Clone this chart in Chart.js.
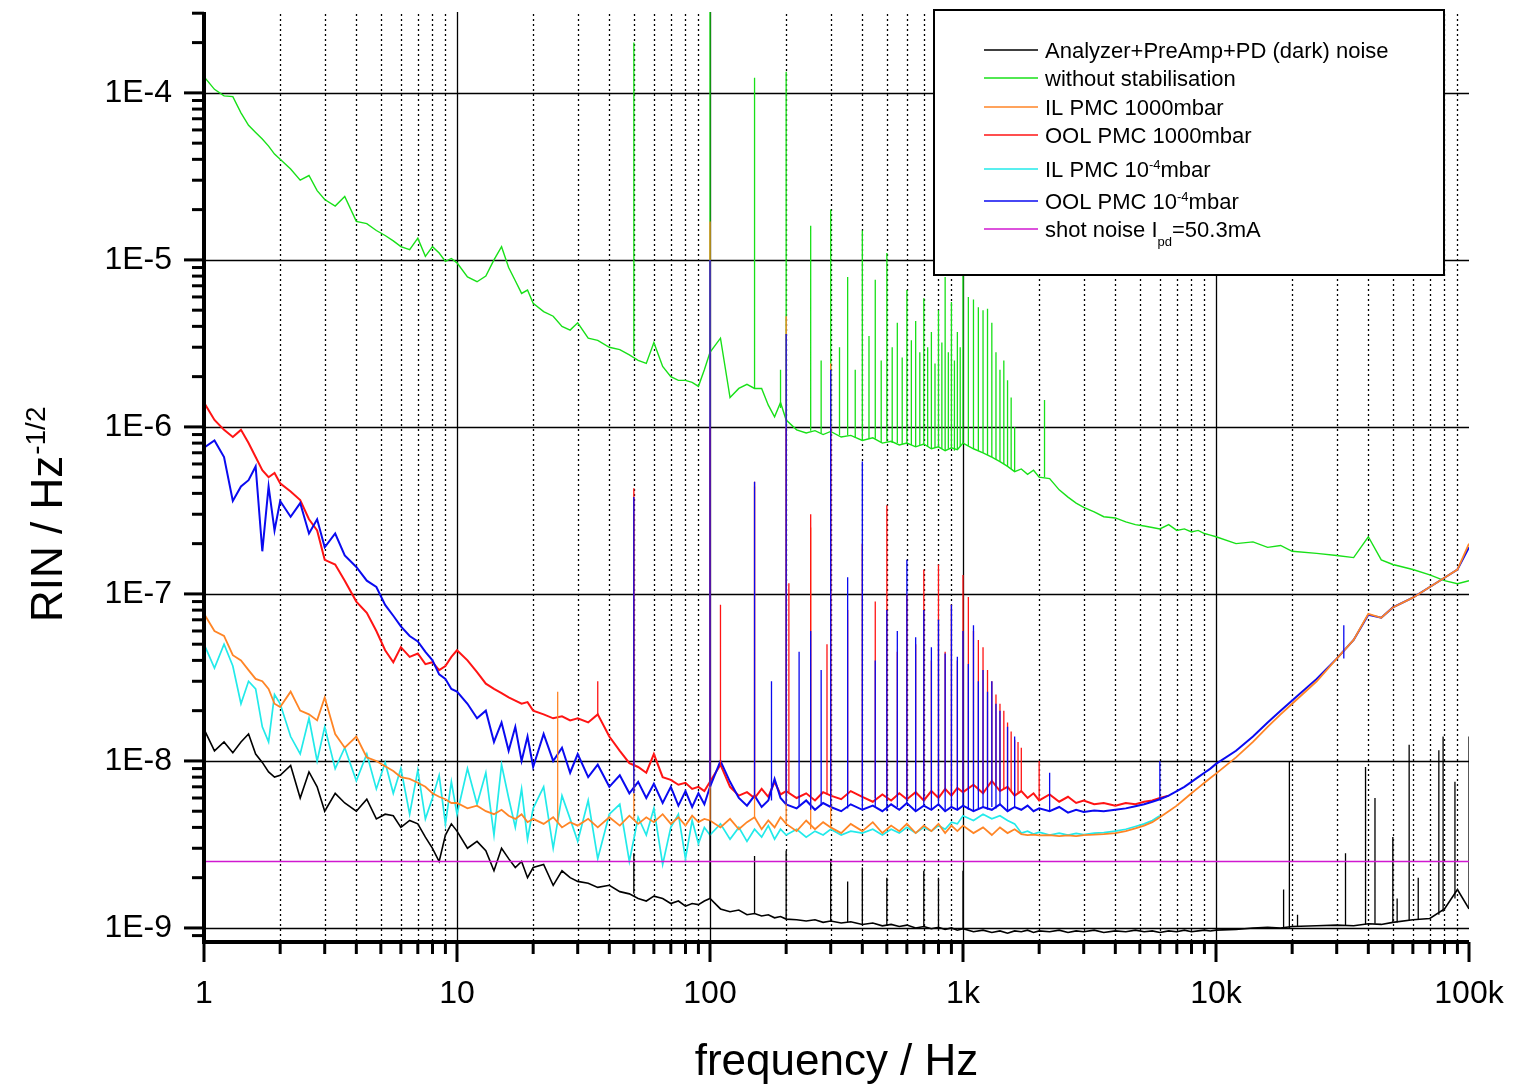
<!DOCTYPE html>
<html>
<head>
<meta charset="utf-8">
<title>RIN spectrum</title>
<script src="https://cdn.jsdelivr.net/npm/chart.js@4.4.0/dist/chart.umd.min.js"></script>
<style>
  html, body { margin: 0; padding: 0; background: #fff; }
  #wrap { width: 1519px; height: 1088px; }
</style>
</head>
<body>
<div id="wrap"><canvas id="rin-chart" width="1519" height="1088"></canvas></div>
<script>
// RIN spectra (relative intensity noise, 1/sqrt(Hz))

// frequency grid shared by the traces (Hz)
const freqHz = [
  1, 1.1, 1.2, 1.3, 1.4, 1.5, 1.6, 1.7, 1.8, 1.9, 2, 2.2, 2.4, 2.6, 2.8, 3, 3.3, 3.6, 4, 4.4, 4.8, 5.2, 5.6, 6, 6.5, 7, 7.5, 8, 8.5, 9, 9.5,
  10, 11, 12, 13, 14, 15, 16, 17, 18, 19, 20, 22, 24, 26, 28, 30, 33, 36, 40, 44, 48, 52, 56, 60, 65, 70, 75, 80, 85, 90, 95,
  100, 110, 120, 130, 140, 150, 160, 170, 180, 190, 200, 220, 240, 260, 280, 300, 330, 360, 400, 440, 480, 520, 560, 600, 650, 700, 750, 800, 850, 900, 950,
  1000, 1100, 1200, 1300, 1400, 1500, 1600, 1700, 1800, 1900, 2000, 2200, 2400, 2600, 2800, 3000, 3300, 3600, 4000, 4400, 4800, 5200, 5600, 6000, 6500, 7000, 7500, 8000, 8500, 9000, 9500,
  10000, 12000, 14000, 16000, 18000, 20000, 25000, 30000, 35000, 40000, 45000, 50000, 60000, 70000, 80000, 90000, 100000
];

// Analyzer+PreAmp+PD (dark) noise
const darkRin = [
  1.55e-8, 1.15e-8, 1.3e-8, 1.12e-8, 1.3e-8, 1.45e-8, 1.1e-8, 9.8e-9, 8.6e-9, 8.0e-9, 8.2e-9, 9.4e-9, 6.0e-9, 8.6e-9, 7.0e-9, 5.0e-9, 6.4e-9, 5.6e-9, 5.0e-9, 5.9e-9, 4.5e-9, 4.8e-9, 4.7e-9, 4.0e-9, 4.4e-9, 4.2e-9, 3.5e-9, 3.0e-9, 2.5e-9, 3.6e-9, 4.2e-9,
  3.8e-9, 3.0e-9, 3.3e-9, 2.9e-9, 2.2e-9, 3.0e-9, 2.6e-9, 2.3e-9, 2.5e-9, 2.0e-9, 2.3e-9, 2.4e-9, 1.8e-9, 2.2e-9, 2.0e-9, 1.9e-9, 1.85e-9, 1.75e-9, 1.8e-9, 1.65e-9, 1.6e-9, 1.5e-9, 1.45e-9, 1.55e-9, 1.5e-9, 1.4e-9, 1.45e-9, 1.35e-9, 1.4e-9, 1.38e-9, 1.45e-9,
  1.5e-9, 1.3e-9, 1.25e-9, 1.28e-9, 1.2e-9, 1.22e-9, 1.18e-9, 1.2e-9, 1.15e-9, 1.17e-9, 1.13e-9, 1.12e-9, 1.1e-9, 1.12e-9, 1.08e-9, 1.1e-9, 1.07e-9, 1.09e-9, 1.05e-9, 1.07e-9, 1.03e-9, 1.05e-9, 1.02e-9, 1.04e-9, 1.0e-9, 1.02e-9, 9.9e-10, 1.01e-9, 9.8e-10, 1.0e-9, 9.7e-10,
  9.9e-10, 9.5e-10, 9.7e-10, 9.4e-10, 9.6e-10, 9.3e-10, 9.6e-10, 9.5e-10, 9.7e-10, 9.4e-10, 9.6e-10, 9.5e-10, 9.7e-10, 9.4e-10, 9.6e-10, 9.5e-10, 9.7e-10, 9.4e-10, 9.6e-10, 9.5e-10, 9.7e-10, 9.5e-10, 9.6e-10, 9.4e-10, 9.6e-10, 9.5e-10, 9.7e-10, 9.5e-10, 9.6e-10, 9.7e-10, 9.6e-10,
  9.7e-10, 9.8e-10, 1.0e-9, 1.01e-9, 1.0e-9, 1.02e-9, 1.03e-9, 1.04e-9, 1.03e-9, 1.06e-9, 1.05e-9, 1.08e-9, 1.12e-9, 1.14e-9, 1.3e-9, 1.7e-9, 1.3e-9
];

// without stabilisation
const freeRin = [
  1.25e-4, 1.05e-4, 9.6e-5, 9.5e-5, 7.6e-5, 6.4e-5, 5.8e-5, 5.3e-5, 4.8e-5, 4.3e-5, 4.0e-5, 3.5e-5, 3.0e-5, 3.2e-5, 2.6e-5, 2.3e-5, 2.1e-5, 2.4e-5, 1.7e-5, 1.65e-5, 1.5e-5, 1.4e-5, 1.3e-5, 1.2e-5, 1.15e-5, 1.35e-5, 1.05e-5, 1.2e-5, 1.1e-5, 9.8e-6, 1.02e-5,
  9.6e-6, 7.9e-6, 7.4e-6, 8.0e-6, 1.0e-5, 1.2e-5, 9.0e-6, 7.5e-6, 6.3e-6, 6.6e-6, 5.5e-6, 4.9e-6, 4.6e-6, 4.0e-6, 3.8e-6, 4.2e-6, 3.4e-6, 3.3e-6, 3.0e-6, 2.9e-6, 2.7e-6, 2.5e-6, 2.4e-6, 3.2e-6, 2.3e-6, 2.0e-6, 1.9e-6, 1.9e-6, 1.85e-6, 1.75e-6, 2.2e-6,
  2.8e-6, 3.4e-6, 1.5e-6, 1.7e-6, 1.8e-6, 1.7e-6, 1.7e-6, 1.35e-6, 1.15e-6, 1.4e-6, 1.1e-6, 9.6e-7, 9.2e-7, 9.5e-7, 9.0e-7, 9.4e-7, 8.7e-7, 8.9e-7, 8.3e-7, 8.6e-7, 8.0e-7, 8.2e-7, 7.8e-7, 8.0e-7, 7.6e-7, 7.9e-7, 7.4e-7, 7.6e-7, 7.2e-7, 7.5e-7, 7.3e-7,
  8.0e-7, 7.4e-7, 7.0e-7, 6.6e-7, 6.2e-7, 5.8e-7, 5.4e-7, 5.6e-7, 5.2e-7, 5.5e-7, 5.0e-7, 4.9e-7, 4.2e-7, 3.8e-7, 3.5e-7, 3.3e-7, 3.1e-7, 2.9e-7, 2.85e-7, 2.7e-7, 2.6e-7, 2.55e-7, 2.5e-7, 2.45e-7, 2.6e-7, 2.4e-7, 2.45e-7, 2.35e-7, 2.4e-7, 2.3e-7, 2.25e-7,
  2.2e-7, 2.0e-7, 2.05e-7, 1.9e-7, 1.95e-7, 1.8e-7, 1.75e-7, 1.7e-7, 1.65e-7, 2.2e-7, 1.6e-7, 1.5e-7, 1.4e-7, 1.3e-7, 1.2e-7, 1.15e-7, 1.2e-7
];

// IL PMC 1000mbar
const ilAirRin = [
  7.6e-8, 6.0e-8, 5.6e-8, 4.3e-8, 4.0e-8, 3.5e-8, 3.1e-8, 3.0e-8, 2.7e-8, 2.2e-8, 2.1e-8, 2.6e-8, 2.0e-8, 1.9e-8, 1.75e-8, 2.4e-8, 1.45e-8, 1.2e-8, 1.4e-8, 1.05e-8, 1.0e-8, 9.3e-9, 8.7e-9, 8.0e-9, 7.8e-9, 7.4e-9, 7.0e-9, 6.4e-9, 6.1e-9, 5.9e-9, 5.6e-9,
  5.6e-9, 5.2e-9, 5.4e-9, 5.0e-9, 4.8e-9, 5.1e-9, 4.7e-9, 4.5e-9, 4.8e-9, 4.3e-9, 4.5e-9, 4.2e-9, 4.6e-9, 4.0e-9, 4.3e-9, 4.1e-9, 4.5e-9, 4.0e-9, 4.6e-9, 4.1e-9, 4.7e-9, 4.2e-9, 4.6e-9, 4.3e-9, 4.8e-9, 4.2e-9, 4.6e-9, 4.1e-9, 4.7e-9, 4.3e-9, 4.5e-9,
  4.4e-9, 4.0e-9, 4.5e-9, 3.9e-9, 4.3e-9, 4.6e-9, 3.9e-9, 4.4e-9, 4.0e-9, 4.6e-9, 4.2e-9, 3.8e-9, 4.4e-9, 3.9e-9, 4.3e-9, 4.0e-9, 3.7e-9, 4.2e-9, 3.8e-9, 4.3e-9, 3.7e-9, 4.1e-9, 3.8e-9, 4.2e-9, 3.7e-9, 4.1e-9, 3.8e-9, 4.2e-9, 3.7e-9, 4.1e-9, 3.8e-9,
  4.1e-9, 3.7e-9, 4.0e-9, 3.6e-9, 4.0e-9, 3.7e-9, 3.9e-9, 3.65e-9, 3.6e-9, 3.62e-9, 3.58e-9, 3.6e-9, 3.55e-9, 3.58e-9, 3.55e-9, 3.6e-9, 3.62e-9, 3.65e-9, 3.7e-9, 3.8e-9, 3.95e-9, 4.1e-9, 4.3e-9, 4.6e-9, 5.0e-9, 5.4e-9, 5.9e-9, 6.4e-9, 6.9e-9, 7.4e-9, 7.9e-9,
  8.4e-9, 1.05e-8, 1.3e-8, 1.6e-8, 1.9e-8, 2.2e-8, 3.0e-8, 4.1e-8, 5.3e-8, 7.6e-8, 7.2e-8, 8.3e-8, 9.5e-8, 1.1e-7, 1.25e-7, 1.4e-7, 2.0e-7
];

// OOL PMC 1000mbar (stops near 6.5 kHz)
const oolAirRin = [
  1.4e-6, 1.1e-6, 9.6e-7, 8.7e-7, 9.6e-7, 8.0e-7, 6.6e-7, 5.5e-7, 5.0e-7, 5.3e-7, 4.6e-7, 4.1e-7, 3.65e-7, 2.8e-7, 2.4e-7, 1.6e-7, 1.5e-7, 1.2e-7, 9.0e-8, 7.7e-8, 6.0e-8, 4.6e-8, 3.9e-8, 4.8e-8, 4.2e-8, 4.4e-8, 3.8e-8, 3.9e-8, 3.5e-8, 3.7e-8, 4.2e-8,
  4.6e-8, 4.0e-8, 3.4e-8, 2.9e-8, 2.7e-8, 2.55e-8, 2.4e-8, 2.3e-8, 2.2e-8, 2.25e-8, 2.0e-8, 1.9e-8, 1.8e-8, 1.85e-8, 1.75e-8, 1.8e-8, 1.7e-8, 1.9e-8, 1.4e-8, 1.15e-8, 9.7e-9, 9.2e-9, 8.5e-9, 1.1e-8, 8.0e-9, 7.7e-9, 7.2e-9, 7.4e-9, 6.8e-9, 7.0e-9, 6.6e-9,
  7.5e-9, 9.5e-9, 7.0e-9, 6.2e-9, 6.5e-9, 6.0e-9, 6.8e-9, 6.1e-9, 7.5e-9, 6.3e-9, 6.6e-9, 6.0e-9, 6.4e-9, 5.8e-9, 6.5e-9, 6.2e-9, 5.9e-9, 6.6e-9, 6.1e-9, 5.7e-9, 6.3e-9, 5.8e-9, 6.4e-9, 5.9e-9, 6.5e-9, 5.8e-9, 6.6e-9, 6.0e-9, 6.8e-9, 6.2e-9, 6.9e-9,
  6.5e-9, 7.2e-9, 6.4e-9, 7.6e-9, 6.6e-9, 7.0e-9, 6.2e-9, 6.6e-9, 6.0e-9, 6.4e-9, 5.8e-9, 6.3e-9, 5.7e-9, 6.1e-9, 5.6e-9, 5.8e-9, 5.5e-9, 5.6e-9, 5.4e-9, 5.6e-9, 5.5e-9, 5.7e-9, 5.8e-9, 6.0e-9, 6.2e-9, null, null, null, null, null, null,
  null, null, null, null, null, null, null, null, null, null, null, null, null, null, null, null, null
];

// IL PMC 10^-4 mbar (stops near 6 kHz)
const ilVacRin = [
  5.0e-8, 3.6e-8, 5.0e-8, 3.7e-8, 2.2e-8, 3.0e-8, 2.7e-8, 1.6e-8, 1.3e-8, 2.5e-8, 2.2e-8, 1.4e-8, 1.1e-8, 1.8e-8, 1.0e-8, 1.6e-8, 9.0e-9, 1.2e-8, 7.6e-9, 1.1e-8, 6.8e-9, 9.8e-9, 6.4e-9, 9.0e-9, 4.8e-9, 8.8e-9, 4.5e-9, 6.0e-9, 8.2e-9, 4.2e-9, 7.5e-9,
  4.8e-9, 9.0e-9, 5.5e-9, 8.5e-9, 3.6e-9, 9.5e-9, 6.0e-9, 4.0e-9, 6.8e-9, 3.4e-9, 5.2e-9, 7.0e-9, 3.0e-9, 6.2e-9, 4.5e-9, 3.3e-9, 5.8e-9, 2.6e-9, 4.8e-9, 5.5e-9, 2.5e-9, 4.6e-9, 3.6e-9, 5.2e-9, 2.4e-9, 4.0e-9, 4.8e-9, 2.6e-9, 4.4e-9, 3.2e-9, 4.0e-9,
  3.6e-9, 4.2e-9, 3.4e-9, 4.0e-9, 3.3e-9, 3.9e-9, 3.5e-9, 4.1e-9, 3.4e-9, 3.9e-9, 3.6e-9, 3.9e-9, 3.5e-9, 3.8e-9, 3.6e-9, 3.9e-9, 3.6e-9, 3.8e-9, 3.7e-9, 3.9e-9, 3.6e-9, 3.9e-9, 3.7e-9, 4.0e-9, 3.7e-9, 4.0e-9, 3.8e-9, 4.1e-9, 3.9e-9, 4.3e-9, 4.2e-9,
  4.7e-9, 4.4e-9, 4.8e-9, 4.5e-9, 4.7e-9, 4.4e-9, 4.2e-9, 3.7e-9, 3.8e-9, 3.65e-9, 3.75e-9, 3.6e-9, 3.7e-9, 3.6e-9, 3.68e-9, 3.62e-9, 3.7e-9, 3.72e-9, 3.8e-9, 3.9e-9, 4.05e-9, 4.2e-9, 4.4e-9, 4.7e-9, null, null, null, null, null, null, null,
  null, null, null, null, null, null, null, null, null, null, null, null, null, null, null, null, null
];

// OOL PMC 10^-4 mbar
const oolVacRin = [
  7.5e-7, 8.3e-7, 6.6e-7, 3.6e-7, 4.4e-7, 4.8e-7, 5.8e-7, 1.8e-7, 4.4e-7, 2.4e-7, 3.6e-7, 2.9e-7, 3.5e-7, 2.3e-7, 2.8e-7, 1.9e-7, 2.3e-7, 1.7e-7, 1.45e-7, 1.2e-7, 1.1e-7, 8.6e-8, 7.4e-8, 6.4e-8, 5.6e-8, 5.2e-8, 4.5e-8, 4.0e-8, 3.3e-8, 3.1e-8, 2.7e-8,
  2.6e-8, 2.2e-8, 1.8e-8, 2.0e-8, 1.3e-8, 1.7e-8, 1.15e-8, 1.6e-8, 1.0e-8, 1.4e-8, 9.2e-9, 1.45e-8, 1.0e-8, 1.2e-8, 8.5e-9, 1.1e-8, 8.0e-9, 9.5e-9, 7.0e-9, 8.2e-9, 6.4e-9, 7.5e-9, 6.0e-9, 7.3e-9, 5.6e-9, 7.0e-9, 5.4e-9, 6.6e-9, 5.3e-9, 6.4e-9, 5.5e-9,
  7.0e-9, 1.0e-8, 7.5e-9, 6.0e-9, 5.4e-9, 6.2e-9, 5.3e-9, 5.8e-9, 7.8e-9, 6.0e-9, 5.5e-9, 5.2e-9, 5.8e-9, 5.1e-9, 5.6e-9, 5.3e-9, 5.0e-9, 5.5e-9, 5.1e-9, 5.4e-9, 5.0e-9, 5.5e-9, 5.1e-9, 5.6e-9, 5.0e-9, 5.4e-9, 5.1e-9, 5.5e-9, 5.0e-9, 5.3e-9, 5.1e-9,
  5.4e-9, 5.0e-9, 5.3e-9, 5.1e-9, 5.5e-9, 5.0e-9, 5.3e-9, 5.1e-9, 5.4e-9, 5.0e-9, 5.2e-9, 5.0e-9, 5.3e-9, 4.9e-9, 5.1e-9, 4.95e-9, 5.05e-9, 5.0e-9, 5.1e-9, 5.2e-9, 5.35e-9, 5.5e-9, 5.7e-9, 5.9e-9, 6.2e-9, 6.6e-9, 7.0e-9, 7.5e-9, 8.0e-9, 8.5e-9, 9.0e-9,
  9.6e-9, 1.15e-8, 1.4e-8, 1.7e-8, 2.0e-8, 2.3e-8, 3.1e-8, 4.1e-8, 5.3e-8, 7.5e-8, 7.2e-8, 8.3e-8, 9.5e-8, 1.1e-7, 1.25e-7, 1.4e-7, 1.9e-7
];

// shot noise, Ipd = 50.3 mA
const shotHz = [1, 100000];
const shotRin = [2.5e-9, 2.5e-9];

// narrow lines (mains harmonics etc.): frequency, floor below the line, line top
const darkSpikeHz = [50, 100, 150, 200, 300, 350, 400, 500, 700, 800, 1000, 18500, 19500, 21000, 32500, 39000, 42500, 50000, 52000, 58000, 63000, 76000, 79000, 88000, 100000];
const darkSpikeBase = [1.6e-9, 1.5e-9, 1.22e-9, 1.13e-9, 1.1e-9, 1.08e-9, 1.05e-9, 1.04e-9, 1.02e-9, 1.01e-9, 9.9e-10, 1.0e-9, 1.0e-9, 1.02e-9, 1.04e-9, 1.05e-9, 1.06e-9, 1.08e-9, 1.08e-9, 1.1e-9, 1.12e-9, 1.2e-9, 1.25e-9, 1.5e-9, 1.3e-9];
const darkSpikeTop = [2.8e-9, 4.4e-9, 2.7e-9, 2.9e-9, 2.6e-9, 1.9e-9, 2.3e-9, 2.0e-9, 2.2e-9, 2.0e-9, 2.2e-9, 1.7e-9, 1.0e-8, 1.2e-9, 2.8e-9, 9.2e-9, 6.0e-9, 3.5e-9, 1.5e-9, 1.25e-8, 2.0e-9, 1.16e-8, 1.4e-8, 7.5e-9, 1.4e-8];

const freeSpikeHz = [50, 100, 150, 190, 200, 250, 275, 300, 325, 350, 375, 400, 425, 450, 475, 500, 525, 550, 575, 600, 625, 650, 675, 700, 725, 750, 775, 800, 825, 850, 875, 900, 925, 950, 975, 1000, 1050, 1100, 1150, 1200, 1250, 1300, 1350, 1400, 1450, 1500, 1550, 1600, 2100];
const freeSpikeBase = [2.7e-6, 2.8e-6, 1.7e-6, 1.3e-6, 1.1e-6, 9.5e-7, 9.2e-7, 9.4e-7, 8.9e-7, 8.9e-7, 8.6e-7, 8.3e-7, 8.5e-7, 8.5e-7, 8.1e-7, 8.2e-7, 8.0e-7, 8.0e-7, 7.9e-7, 8.0e-7, 7.8e-7, 7.6e-7, 7.8e-7, 7.9e-7, 7.6e-7, 7.4e-7, 7.5e-7, 7.6e-7, 7.4e-7, 7.2e-7, 7.4e-7, 7.5e-7, 7.2e-7, 7.3e-7, 7.6e-7, 8.0e-7, 7.7e-7, 7.4e-7, 7.2e-7, 7.0e-7, 6.8e-7, 6.6e-7, 6.4e-7, 6.2e-7, 6.0e-7, 5.8e-7, 5.6e-7, 5.4e-7, 5.0e-7];
const freeSpikeTop = [2.0e-4, 3.5e-4, 1.23e-4, 2.2e-6, 1.34e-4, 1.6e-5, 2.5e-6, 2.0e-5, 3.0e-6, 7.9e-6, 2.2e-6, 1.5e-5, 3.5e-6, 7.6e-6, 2.5e-6, 1.1e-5, 3.0e-6, 4.2e-6, 2.6e-6, 6.6e-6, 3.3e-6, 4.3e-6, 2.8e-6, 5.9e-6, 3.0e-6, 3.7e-6, 2.4e-6, 5.0e-6, 3.2e-6, 7.9e-6, 2.8e-6, 5.6e-6, 2.5e-6, 3.7e-6, 3.0e-6, 9.3e-6, 6.0e-6, 5.8e-6, 5.2e-6, 5.0e-6, 5.1e-6, 4.2e-6, 2.8e-6, 2.2e-6, 2.5e-6, 1.9e-6, 1.5e-6, 1.0e-6, 1.45e-6];

const ilAirSpikeHz = [25, 50, 100, 150, 200, 250, 300];
const ilAirSpikeBase = [4.3e-9, 4.5e-9, 4.4e-9, 4.6e-9, 4.2e-9, 3.9e-9, 4.0e-9];
const ilAirSpikeTop = [2.6e-8, 3.0e-7, 1.7e-5, 4.4e-7, 4.6e-6, 2.5e-7, 2.4e-6];

const oolAirSpikeHz = [36, 50, 100, 110, 150, 200, 205, 250, 290, 300, 350, 400, 450, 500, 550, 600, 650, 700, 750, 800, 850, 900, 950, 1000, 1050, 1100, 1150, 1200, 1250, 1300, 1350, 1400, 1450, 1500, 1550, 1600, 1650, 1700, 2000];
const oolAirSpikeBase = [1.9e-8, 9.6e-9, 7.5e-9, 9.5e-9, 6.0e-9, 6.6e-9, 6.5e-9, 6.0e-9, 6.3e-9, 6.2e-9, 6.3e-9, 6.1e-9, 6.0e-9, 5.8e-9, 6.1e-9, 5.9e-9, 6.2e-9, 5.8e-9, 6.4e-9, 6.0e-9, 6.6e-9, 6.2e-9, 6.7e-9, 6.5e-9, 6.8e-9, 7.2e-9, 6.6e-9, 6.4e-9, 7.0e-9, 7.6e-9, 7.0e-9, 6.6e-9, 6.8e-9, 7.0e-9, 6.6e-9, 6.2e-9, 6.4e-9, 6.6e-9, 5.8e-9];
const oolAirSpikeTop = [3.0e-8, 4.3e-7, 1.0e-6, 8.6e-8, 4.7e-7, 1.0e-6, 1.16e-7, 3.0e-7, 5.0e-8, 1.0e-6, 8.0e-8, 2.0e-7, 9.0e-8, 3.4e-7, 4.5e-8, 1.0e-7, 5.0e-8, 1.4e-7, 4.0e-8, 1.5e-7, 4.5e-8, 8.6e-8, 4.0e-8, 1.3e-7, 9.6e-8, 6.0e-8, 5.3e-8, 4.8e-8, 3.5e-8, 3.0e-8, 2.5e-8, 2.2e-8, 2.0e-8, 1.7e-8, 1.5e-8, 1.34e-8, 1.3e-8, 1.2e-8, 1.0e-8];

const oolVacSpikeHz = [50, 100, 150, 175, 200, 225, 250, 275, 300, 350, 400, 450, 500, 550, 600, 650, 700, 750, 800, 850, 900, 950, 1000, 1050, 1100, 1150, 1200, 1250, 1300, 1350, 1400, 1500, 1600, 2200, 6000, 32000];
const oolVacSpikeBase = [6.4e-9, 7.0e-9, 6.2e-9, 5.8e-9, 5.5e-9, 5.3e-9, 5.1e-9, 5.4e-9, 5.3e-9, 5.2e-9, 5.1e-9, 5.3e-9, 5.0e-9, 5.3e-9, 5.6e-9, 5.0e-9, 5.4e-9, 5.1e-9, 5.5e-9, 5.0e-9, 5.3e-9, 5.1e-9, 5.4e-9, 5.1e-9, 5.0e-9, 5.2e-9, 5.3e-9, 5.1e-9, 5.3e-9, 5.2e-9, 5.5e-9, 5.0e-9, 5.3e-9, 5.0e-9, 5.9e-9, 4.1e-8];
const oolVacSpikeTop = [3.8e-7, 1.0e-5, 4.7e-7, 3.0e-8, 3.6e-6, 4.5e-8, 6.0e-8, 3.5e-8, 2.2e-6, 1.26e-7, 6.2e-7, 4.0e-8, 8.0e-8, 6.0e-8, 1.6e-7, 5.5e-8, 8.0e-8, 4.8e-8, 7.0e-8, 4.4e-8, 8.6e-8, 4.2e-8, 6.0e-8, 3.8e-8, 6.5e-8, 3.0e-8, 3.5e-8, 2.6e-8, 3.0e-8, 2.2e-8, 2.0e-8, 1.6e-8, 1.4e-8, 8.5e-9, 1.0e-8, 6.5e-8];

// axes
const xTickValues = [1, 10, 100, 1000, 10000, 100000];
const xTickLabels = ['1', '10', '100', '1k', '10k', '100k'];
const yTickValues = [1e-9, 1e-8, 1e-7, 1e-6, 1e-5, 1e-4];
const yTickLabels = ['1E-9', '1E-8', '1E-7', '1E-6', '1E-5', '1E-4'];

// legend: [text, 'sup' | 'sub' | '']
const legendLabels = [
    [['Analyzer+PreAmp+PD (dark) noise', '']],
    [['without stabilisation', '']],
    [['IL PMC 1000mbar', '']],
    [['OOL PMC 1000mbar', '']],
    [['IL PMC 10', ''], ['-4', 'sup'], ['mbar', '']],
    [['OOL PMC 10', ''], ['-4', 'sup'], ['mbar', '']],
    [['shot noise I', ''], ['pd', 'sub'], ['=50.3mA', '']]
];
const legendColors = ['#000000', '#18e018', '#ff8526', '#ff1414', '#22eaea', '#0a0af0', '#d018d0'];
const legendBaselines = [58, 86, 115, 143, 177, 209, 237];

const FONT = '"Liberation Sans", Arial, sans-serif';

// =================== DATASETS ===================

function trace(label, color, order, width, freqs, vals) {
    return {
        label: label,
        data: freqs.map((f, i) => ({ x: f, y: vals[i] })),
        borderColor: color,
        borderWidth: width,
        pointRadius: 0,
        tension: 0,
        fill: false,
        spanGaps: false,
        order: order
    };
}

function lines(label, color, order, hz, base, top) {
    const pts = [];
    hz.forEach((f, i) => {
        pts.push({ x: f, y: base[i] }, { x: f, y: top[i] }, { x: f, y: null });
    });
    return {
        label: label,
        data: pts,
        borderColor: color,
        borderWidth: 1.3,
        pointRadius: 0,
        tension: 0,
        fill: false,
        spanGaps: false,
        order: order
    };
}

const [cDark, cFree, cIlAir, cOolAir, cIlVac, cOolVac, cShot] = legendColors;

const datasets = [
    trace('Analyzer+PreAmp+PD (dark) noise', cDark, 3, 1.6, freqHz, darkRin),
    trace('without stabilisation', cFree, 12, 1.4, freqHz, freeRin),
    trace('IL PMC 1000mbar', cIlAir, 8, 1.8, freqHz, ilAirRin),
    trace('OOL PMC 1000mbar', cOolAir, 11, 2, freqHz, oolAirRin),
    trace('IL PMC 10^-4 mbar', cIlVac, 9, 1.7, freqHz, ilVacRin),
    trace('OOL PMC 10^-4 mbar', cOolVac, 10, 2, freqHz, oolVacRin),
    trace('shot noise Ipd=50.3mA', cShot, 1, 1.4, shotHz, shotRin),
    lines('dark lines', cDark, 2, darkSpikeHz, darkSpikeBase, darkSpikeTop),
    lines('free lines', cFree, 7, freeSpikeHz, freeSpikeBase, freeSpikeTop),
    lines('IL air lines', cIlAir, 6, ilAirSpikeHz, ilAirSpikeBase, ilAirSpikeTop),
    lines('OOL air lines', cOolAir, 5, oolAirSpikeHz, oolAirSpikeBase, oolAirSpikeTop),
    lines('OOL vac lines', cOolVac, 4, oolVacSpikeHz, oolVacSpikeBase, oolVacSpikeTop)
];

// =================== FRAME / LEGEND ===================

const minorSteps = [2, 3, 4, 5, 6, 7, 8, 9];

function seg(ctx, x1, y1, x2, y2) {
    ctx.beginPath();
    ctx.moveTo(x1, y1);
    ctx.lineTo(x2, y2);
    ctx.stroke();
}

// keep the plot box where the original has it (labels may overhang)
function noOverhang(s) {
    s.paddingTop = 0;
    s.paddingBottom = 0;
    s.paddingLeft = 0;
    s.paddingRight = 0;
}

const framePlugin = {
    id: 'rinFrame',
    beforeDatasetsDraw(chart) {
        const { ctx, chartArea: a, scales: { x, y } } = chart;
        ctx.save();
        ctx.strokeStyle = '#000';

        // dotted minor verticals
        ctx.lineWidth = 1.3;
        ctx.setLineDash([2, 3]);
        xTickValues.slice(0, -1).forEach(dec => {
            minorSteps.forEach(m => {
                const px = Math.round(x.getPixelForValue(dec * m)) + 0.5;
                seg(ctx, px, a.top + 2, px, a.bottom);
            });
        });

        // solid decade lines
        ctx.setLineDash([]);
        ctx.lineWidth = 1.3;
        xTickValues.slice(1, -1).forEach(v => {
            const px = Math.round(x.getPixelForValue(v)) + 0.5;
            seg(ctx, px, a.top, px, a.bottom);
        });
        yTickValues.forEach(v => {
            const py = Math.round(y.getPixelForValue(v)) + 0.5;
            seg(ctx, a.left, py, a.right, py);
        });
        ctx.restore();
    },
    afterDatasetsDraw(chart) {
        const { ctx, chartArea: a, scales: { x, y } } = chart;
        ctx.save();

        // legend box
        ctx.fillStyle = '#fff';
        ctx.fillRect(934, 10, 510, 265);
        ctx.strokeStyle = '#000';
        ctx.lineWidth = 2;
        ctx.strokeRect(934, 10, 510, 265);
        ctx.textBaseline = 'alphabetic';
        ctx.textAlign = 'left';
        legendLabels.forEach((parts, i) => {
            const yb = legendBaselines[i];
            ctx.strokeStyle = legendColors[i];
            ctx.lineWidth = 1.6;
            seg(ctx, 984, yb - 8, 1038, yb - 8);
            let xx = 1045;
            parts.forEach(([txt, kind]) => {
                ctx.font = (kind ? '13px ' : '22px ') + FONT;
                const dy = kind === 'sup' ? -8 : kind === 'sub' ? 9 : 0;
                ctx.fillStyle = '#000';
                ctx.fillText(txt, xx, yb + dy);
                xx += ctx.measureText(txt).width;
            });
        });

        // axes and tick marks
        ctx.strokeStyle = '#000';
        ctx.lineWidth = 4;
        seg(ctx, a.left, a.top, a.left, a.bottom + 2);
        seg(ctx, a.left - 2, a.bottom, a.right, a.bottom);

        ctx.lineWidth = 3;
        xTickValues.forEach((dec, k) => {
            const px = x.getPixelForValue(dec);
            seg(ctx, px, a.bottom, px, a.bottom + 20);
            if (k < xTickValues.length - 1) {
                minorSteps.forEach(m => {
                    const pm = x.getPixelForValue(dec * m);
                    seg(ctx, pm, a.bottom, pm, a.bottom + 12);
                });
            }
        });
        [1e-10].concat(yTickValues).forEach(dec => {
            const py = y.getPixelForValue(dec);
            if (py >= a.top && py <= a.bottom) seg(ctx, a.left, py, a.left - 20, py);
            minorSteps.forEach(m => {
                const pm = y.getPixelForValue(dec * m);
                if (pm >= a.top - 1 && pm <= a.bottom - 2) seg(ctx, a.left, pm, a.left - 12, pm);
            });
        });

        // axis titles
        ctx.fillStyle = '#000';
        ctx.font = '44px ' + FONT;
        ctx.textAlign = 'center';
        ctx.fillText('frequency / Hz', (a.left + a.right) / 2, 1075);

        ctx.translate(62, 622);
        ctx.rotate(-Math.PI / 2);
        ctx.textAlign = 'left';
        ctx.font = '44px ' + FONT;
        ctx.fillText('RIN / Hz', 0, 0);
        const w = ctx.measureText('RIN / Hz').width;
        ctx.font = '28px ' + FONT;
        ctx.fillText('-1/2', w + 1, -17);
        ctx.restore();
    }
};

// =================== CHART ===================

new Chart(document.getElementById('rin-chart'), {
    type: 'line',
    data: { datasets: datasets },
    options: {
        responsive: false,
        animation: false,
        devicePixelRatio: 1,
        layout: { padding: { top: 12, right: 50, left: 0, bottom: 0 } },
        plugins: {
            legend: { display: false },
            tooltip: { enabled: false }
        },
        scales: {
            x: {
                type: 'logarithmic',
                min: 1,
                max: 100000,
                grid: { display: false, drawTicks: false },
                border: { display: false },
                afterBuildTicks: s => { s.ticks = xTickValues.map(v => ({ value: v })); },
                afterFit: s => { s.height = 146; noOverhang(s); },
                ticks: {
                    autoSkip: false,
                    maxRotation: 0,
                    padding: 33,
                    color: '#000',
                    font: { family: FONT, size: 32 },
                    callback: (v, i) => xTickLabels[i]
                }
            },
            y: {
                type: 'logarithmic',
                min: 8.24e-10,
                max: 3.05e-4,
                grid: { display: false, drawTicks: false },
                border: { display: false },
                afterBuildTicks: s => { s.ticks = yTickValues.map(v => ({ value: v })); },
                afterFit: s => { s.width = 204; noOverhang(s); },
                ticks: {
                    autoSkip: false,
                    padding: 32,
                    color: '#000',
                    font: { family: FONT, size: 32 },
                    callback: (v, i) => yTickLabels[i]
                }
            }
        }
    },
    plugins: [framePlugin]
});
</script>
</body>
</html>
